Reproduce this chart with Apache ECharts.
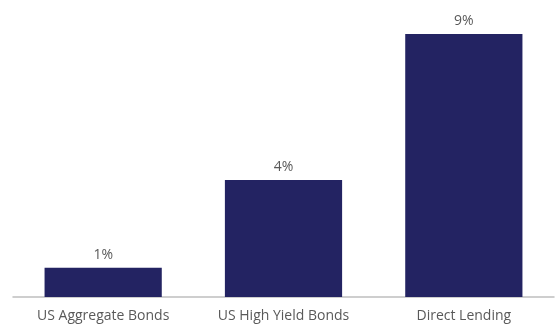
<!DOCTYPE html>
<html><head><meta charset="utf-8">
<script src="https://cdn.jsdelivr.net/npm/echarts@6/dist/echarts.min.js"></script>
<style>html,body{margin:0;padding:0;background:#fff}#c{width:560px;height:325px}</style>
</head><body><div id="c"></div>
<script>
const categories = ["US Aggregate Bonds", "US High Yield Bonds", "Direct Lending"];
const values = [1, 4, 9];
const chart = echarts.init(document.getElementById('c'), null, {renderer: 'canvas'});
chart.setOption({
  animation: false,
  grid: {left: 13, right: 6, top: 34, bottom: 28, containLabel: false},
  xAxis: {
    type: 'category', data: categories,
    axisLine: {lineStyle: {color: '#bfbfbf', width: 1.5}},
    axisTick: {show: false},
    axisLabel: {color: '#595959', fontSize: 14, fontFamily: 'Open Sans', margin: 12}
  },
  yAxis: {type: 'value', min: 0, max: 9, show: false, splitLine: {show: false}},
  series: [{
    type: 'bar', data: values, barWidth: '65%',
    itemStyle: {color: '#232362'},
    label: {show: true, position: 'top', distance: 6, color: '#595959', fontSize: 14, fontFamily: 'Open Sans',
      formatter: p => p.value + '%'}
  }]
});
</script></body></html>
